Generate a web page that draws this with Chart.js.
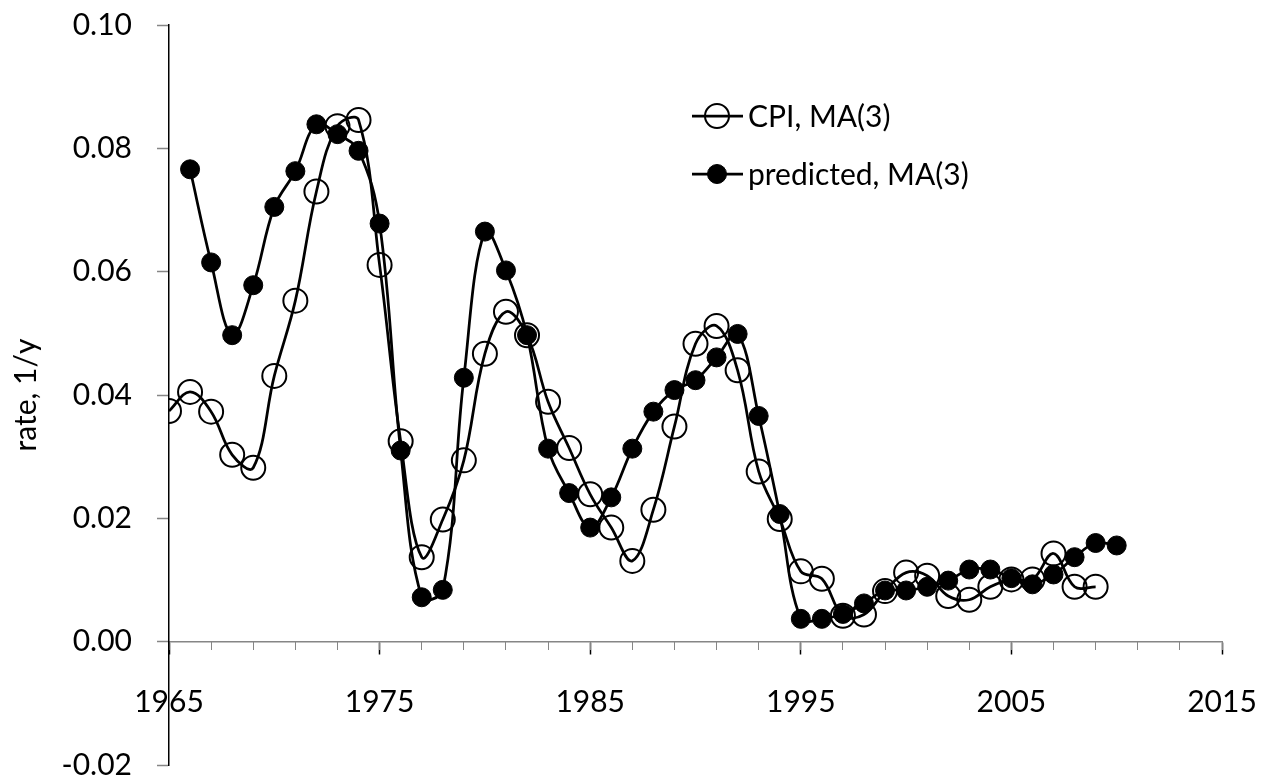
<!DOCTYPE html>
<html>
<head>
<meta charset="utf-8">
<script src="https://cdn.jsdelivr.net/npm/chart.js@4/dist/chart.umd.min.js"></script>
<style>
  html, body { margin: 0; padding: 0; background: #fff; }
  #wrap { width: 1279px; height: 780px; position: relative; }
</style>
</head>
<body>
<div id="wrap"><canvas id="c" width="1279" height="780"></canvas></div>
<script>
const cpiStartYear = 1965;
const cpiValues = [0.0374, 0.0405, 0.0373, 0.0303, 0.0282, 0.0431, 0.0553, 0.0730, 0.0836, 0.0846,
  0.0611, 0.0325, 0.0137, 0.0198, 0.0294, 0.0467, 0.0535, 0.0497, 0.0389, 0.0314,
  0.0239, 0.0185, 0.0131, 0.0214, 0.0349, 0.0483, 0.0512, 0.0440, 0.0276, 0.0199,
  0.0114, 0.0102, 0.0042, 0.0044, 0.0082, 0.0112, 0.0107, 0.0074, 0.0068, 0.0089,
  0.0101, 0.0101, 0.0143, 0.0089, 0.0089];
const predStartYear = 1966;
const predValues = [0.0766, 0.0615, 0.0497, 0.0578, 0.0705, 0.0763, 0.0839, 0.0823, 0.0796,
  0.0678, 0.0310, 0.0072, 0.0084, 0.0428, 0.0665, 0.0602, 0.0497, 0.0313, 0.0241,
  0.0185, 0.0234, 0.0313, 0.0373, 0.0408, 0.0424, 0.0461, 0.0499, 0.0366, 0.0207,
  0.0037, 0.0037, 0.0045, 0.0062, 0.0083, 0.0083, 0.0089, 0.0099, 0.0117, 0.0117,
  0.0103, 0.0093, 0.0109, 0.0137, 0.0160, 0.0156];
const seriesNames = ['CPI, MA(3)', 'predicted, MA(3)'];
const yTitle = 'rate, 1/y';
const xMin = 1965, xMax = 2015, xMajorStep = 10, xMinorStep = 2;
const yMin = -0.02, yMax = 0.10, yStep = 0.02;

const FONT = 'Lato, "Open Sans", sans-serif';
const toPts = (start, vals) => vals.map((v, i) => ({ x: start + i, y: v }));

const legendPlugin = {
  id: 'insideLegend',
  afterDraw(chart) {
    const ctx = chart.ctx;
    const rows = [
      { y: 116, ds: chart.data.datasets[1] },
      { y: 174, ds: chart.data.datasets[0] }
    ];
    ctx.save();
    rows.forEach(r => {
      const ds = r.ds;
      ctx.strokeStyle = '#000';
      ctx.lineWidth = ds.borderWidth;
      ctx.beginPath();
      ctx.moveTo(692, r.y);
      ctx.lineTo(743, r.y);
      ctx.stroke();
      ctx.beginPath();
      ctx.arc(717, r.y, ds.pointRadius, 0, Math.PI * 2);
      if (ds.pointBackgroundColor !== 'rgba(0,0,0,0)') {
        ctx.fillStyle = ds.pointBackgroundColor;
        ctx.fill();
      }
      ctx.lineWidth = ds.pointBorderWidth;
      ctx.strokeStyle = ds.pointBorderColor;
      ctx.stroke();
      ctx.fillStyle = '#000';
      ctx.font = '30px ' + FONT;
      ctx.textBaseline = 'middle';
      ctx.textAlign = 'left';
      ctx.fillText(ds.label, 748, r.y + 1);
    });
    ctx.restore();
  }
};

new Chart(document.getElementById('c'), {
  type: 'line',
  data: {
    datasets: [
      {
        label: seriesNames[1],
        data: toPts(predStartYear, predValues),
        borderColor: '#000',
        borderWidth: 2.75,
        pointRadius: 9.5,
        pointHoverRadius: 9.5,
        pointBackgroundColor: '#000',
        pointBorderColor: '#000',
        pointBorderWidth: 1,
        tension: 0.38,
        fill: false
      },
      {
        label: seriesNames[0],
        data: toPts(cpiStartYear, cpiValues),
        borderColor: '#000',
        borderWidth: 2.75,
        pointRadius: 12,
        pointHoverRadius: 12,
        pointBackgroundColor: 'rgba(0,0,0,0)',
        pointBorderColor: '#000',
        pointBorderWidth: 2,
        tension: 0.38,
        fill: false
      }
    ]
  },
  options: {
    responsive: false,
    animation: false,
    events: [],
    layout: { padding: { top: 25, right: 57, bottom: 15, left: 0 } },
    plugins: { legend: { display: false }, tooltip: { enabled: false } },
    scales: {
      x: {
        type: 'linear',
        min: xMin, max: xMax,
        position: { y: 0 },
        border: { display: true, color: '#868686', width: 1.5 },
        grid: { drawOnChartArea: false, drawTicks: true, tickLength: 12, tickColor: '#000', tickWidth: 1.5 },
        ticks: {
          stepSize: xMajorStep,
          padding: 31,
          color: '#000',
          font: { family: FONT, size: 30 },
          maxRotation: 0,
          autoSkip: false,
          callback: v => String(v)
        },
        afterFit(scale) { scale.paddingLeft = 0; scale.paddingRight = 0; }
      },
      x2: {
        type: 'linear',
        min: xMin, max: xMax,
        position: { y: 0 },
        border: { display: false },
        grid: { drawOnChartArea: false, drawTicks: true, tickLength: 8, tickColor: '#868686', tickWidth: 1 },
        ticks: { stepSize: xMinorStep, display: false, autoSkip: false },
        afterFit(scale) { scale.paddingLeft = 0; scale.paddingRight = 0; }
      },
      y: {
        type: 'linear',
        min: yMin, max: yMax,
        position: 'left',
        border: { display: true, color: '#000', width: 1.5 },
        grid: { drawOnChartArea: false, drawTicks: true, tickLength: 12, tickColor: '#868686', tickWidth: 1.5 },
        ticks: {
          stepSize: yStep,
          padding: 25,
          color: '#000',
          font: { family: FONT, size: 30, lineHeight: 1.0 },
          callback: v => (Math.round(v * 100) / 100).toFixed(2)
        },
        title: {
          display: true,
          text: yTitle,
          color: '#000',
          font: { family: FONT, size: 30 },
          padding: { top: 8, bottom: 0 }
        },
        afterFit(scale) { scale.width = 169; scale.paddingTop = 0; scale.paddingBottom = 0; }
      }
    }
  },
  plugins: [legendPlugin]
});
</script>
</body>
</html>
